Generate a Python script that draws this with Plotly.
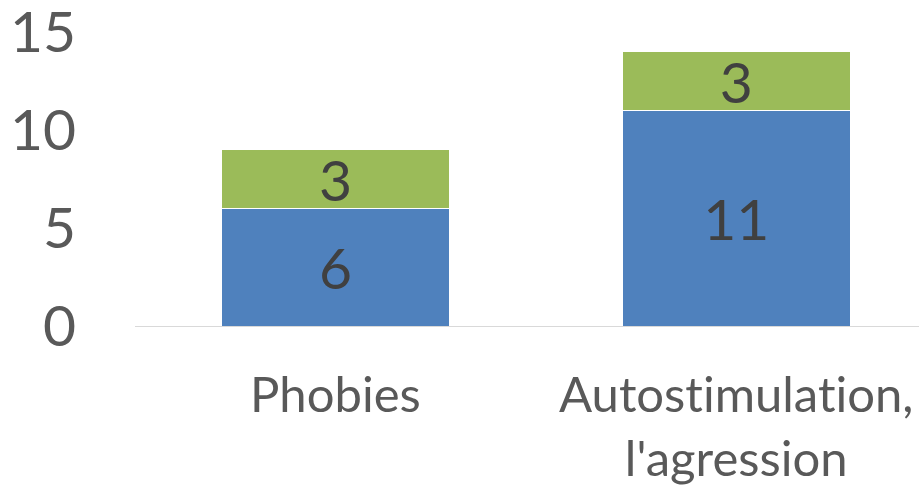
import plotly.graph_objects as go

# Categories and stacked series values
categories = ["Phobies", "Autost\u200cimulat\u200cion,<br>l'agression"]
series_blue = [6, 11]
series_green = [3, 3]
y_ticks = [0, 5, 10, 15]

BLUE = "#4F81BD"
GREEN = "#9BBB59"
FONT = "Lato, 'Open Sans', sans-serif"

fig = go.Figure()
for vals, color in [(series_blue, BLUE), (series_green, GREEN)]:
    fig.add_trace(go.Bar(
        x=[0, 1],
        y=vals,
        width=0.569,
        marker=dict(color=color, line=dict(color="#ffffff", width=1)),
        text=vals,
        texttemplate="%{text}",
        textposition="inside",
        insidetextanchor="middle",
        textangle=0,
        constraintext="none",
        textfont=dict(family=FONT, size=57, color="#404040"),
        hoverinfo="skip",
    ))

fig.update_layout(
    barmode="stack",
    width=919,
    height=487,
    margin=dict(l=135, r=0, t=32, b=161, autoexpand=False),
    paper_bgcolor="#ffffff",
    plot_bgcolor="#ffffff",
    showlegend=False,
    font=dict(family=FONT, color="#595959"),
    xaxis=dict(
        range=[-0.5, 1.456],
        tickmode="array",
        tickvals=[0, 1],
        ticktext=categories,
        tickfont=dict(size=49, color="#595959"),
        showgrid=False,
        zeroline=False,
        showline=True,
        linecolor="#d9d9d9",
        linewidth=1,
        ticks="outside",
        ticklen=26,
        tickcolor="rgba(0,0,0,0)",
        automargin=False,
    ),
    yaxis=dict(
        range=[0, 15.0001],
        tickmode="array",
        tickvals=y_ticks,
        tickfont=dict(size=57, color="#595959"),
        showgrid=False,
        zeroline=False,
        showline=False,
        ticklabelstandoff=58,
        ticklabeloverflow="allow",
        automargin=False,
    ),
)

fig.write_html("out.html")
